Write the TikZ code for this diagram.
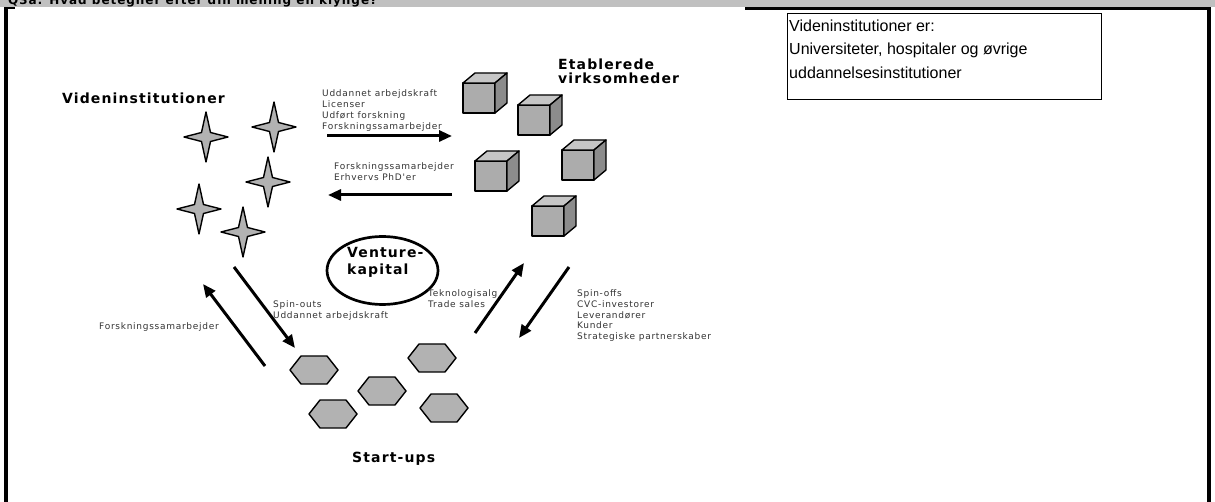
\documentclass[tikz,border=0pt]{standalone}
\usepackage{fontspec}
\setmainfont{Liberation Sans}
\newfontfamily\lblfont{DejaVu Sans}[LetterSpace=8]
\newfontfamily\hdfont{DejaVu Sans}[LetterSpace=8]
\usetikzlibrary{arrows.meta,shapes.geometric}

\definecolor{band}{HTML}{C0C0C0}
\definecolor{shapegray}{HTML}{B2B2B2}
\definecolor{cubefront}{HTML}{ACACAC}
\definecolor{cubetop}{HTML}{C6C6C6}
\definecolor{cubeside}{HTML}{8C8C8C}

% multi-line nodes sit on the baseline of their last line
\tikzset{
  lbl/.style={inner sep=0pt, anchor=base west, align=left,
    font=\lblfont\fontsize{9}{10.8}\selectfont, text=black!80},
  hd/.style={inner sep=0pt, anchor=base west, align=left,
    font=\hdfont\bfseries\fontsize{14}{14}\selectfont},
  flow/.style={line width=3pt, -{Triangle[length=13pt,width=11pt]}},
  outline/.style={draw=black, line width=1.4pt, line join=round},
  star4/.pic={
    \draw[outline, fill=shapegray] (0,-25) -- (4.5,-4.5) -- (22,0) -- (4.5,4.5)
      -- (0,25) -- (-4.5,4.5) -- (-22,0) -- (-4.5,-4.5) -- cycle;
  },
  cube/.pic={
    \draw[outline, fill=cubefront] (0,0) rectangle (32,30);
    \draw[outline, fill=cubetop] (0,0) -- (12,-10) -- (44,-10) -- (32,0) -- cycle;
    \draw[outline, fill=cubeside] (32,0) -- (44,-10) -- (44,20) -- (32,30) -- cycle;
  },
  hexa/.pic={
    \draw[outline, fill=shapegray] (-24,0) -- (-13,-14) -- (13,-14) -- (24,0)
      -- (13,14) -- (-13,14) -- cycle;
  }
}

\begin{document}
\begin{tikzpicture}[x=1pt,y=-1pt]
\useasboundingbox (0,0) rectangle (1215,502);

% heading band, cut at the top edge
\fill[band] (0,0) rectangle (1215,7);
\begin{scope}
  \clip (0,0) rectangle (1215,7);
  \node[inner sep=0pt, anchor=base west,
        font=\hdfont\bfseries\fontsize{12}{12}\selectfont] (q) at (8,4.5)
        {Q3a: Hvad betegner efter din mening en klynge?};
\end{scope}

% frame
\fill (4,7) rectangle (7.5,502);
\fill (4,7) rectangle (15,9.5);
\fill (745,7) rectangle (1211,10.5);
\fill (1207,7) rectangle (1211,502);

% note box
\node[draw, line width=0.8pt, anchor=north west, inner sep=0pt,
      minimum width=314pt, minimum height=86pt] (note) at (787,13) {};
\node[inner sep=0pt, anchor=base west, align=left,
      font=\fontsize{16}{23.3}\selectfont] (notetxt) at (789,78.1)
  {Videninstitutioner er:\\Universiteter, hospitaler og øvrige\\uddannelsesinstitutioner};

% knowledge institutions
\node[hd] (vi) at (62,104) {Videninstitutioner};
\pic (s1) at (206,137) {star4};
\pic (s2) at (274,127) {star4};
\pic (s3) at (268,182) {star4};
\pic (s4) at (199,209) {star4};
\pic (s5) at (243,232) {star4};

% established companies
\node[hd] (ev) at (558,84) {Etablerede\\virksomheder};
\pic (c1) at (463,83) {cube};
\pic (c2) at (518,105) {cube};
\pic (c3) at (475,161) {cube};
\pic (c4) at (562,150) {cube};
\pic (c5) at (532,206) {cube};

% venture capital
\node[draw, ellipse, line width=2.7pt, minimum width=111pt, minimum height=68pt,
      inner sep=0pt] (vc) at (382.5,270.5) {};
\node[hd, font=\hdfont\bfseries\fontsize{14}{17}\selectfont] (vct) at (347,275) {Venture-\\kapital};

% start-ups
\pic (h1) at (314,370) {hexa};
\pic (h2) at (432,358) {hexa};
\pic (h3) at (382,391) {hexa};
\pic (h4) at (333,414) {hexa};
\pic (h5) at (444,408) {hexa};
\node[hd] (su) at (352,462) {Start-ups};

% flow arrows
\coordinate (a1s) at (327,136); \coordinate (a1e) at (452,136);
\coordinate (a2s) at (452,195); \coordinate (a2e) at (328,195);
\coordinate (a3s) at (234,267); \coordinate (a3e) at (295,348);
\coordinate (a4s) at (265,366); \coordinate (a4e) at (203,284);
\coordinate (a5s) at (475,333); \coordinate (a5e) at (524,263);
\coordinate (a6s) at (569,267); \coordinate (a6e) at (519,338);
\draw[flow] (a1s) -- (a1e);
\draw[flow] (a2s) -- (a2e);
\draw[flow] (a3s) -- (a3e);
\draw[flow] (a4s) -- (a4e);
\draw[flow] (a5s) -- (a5e);
\draw[flow] (a6s) -- (a6e);

% flow labels
\node[lbl] (l1) at (322,129.4) {Uddannet arbejdskraft\\Licenser\\Udført forskning\\Forskningssamarbejder};
\node[lbl] (l2) at (334,180.8) {Forskningssamarbejder\\Erhvervs PhD'er};
\node[lbl] (l3) at (273,318.3) {Spin-outs\\Uddannet arbejdskraft};
\node[lbl] (l4) at (99,329.5) {Forskningssamarbejder};
\node[lbl] (l5) at (428,307.3) {Teknologisalg\\Trade sales};
\node[lbl] (l6) at (577,339.7) {Spin-offs\\CVC-investorer\\Leverandører\\Kunder\\Strategiske partnerskaber};
\end{tikzpicture}
\end{document}
